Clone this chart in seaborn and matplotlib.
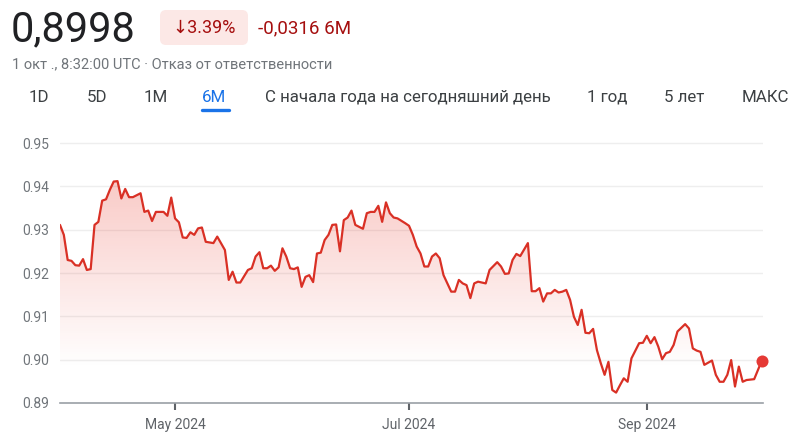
import matplotlib
matplotlib.use('Agg')
import matplotlib.pyplot as plt
import matplotlib.dates as mdates
import numpy as np
import pandas as pd
import seaborn as sns
from matplotlib.patches import Polygon, FancyBboxPatch
from matplotlib.lines import Line2D

# days after 2024-04-01 and the rate
days = [0, 1, 2, 3, 4, 5, 6, 7, 8, 9, 10, 11, 12, 13, 14, 15, 16, 17, 18, 19,
        21, 22, 23, 24, 25, 27, 28, 29, 30, 31, 32, 33, 34, 35, 36, 37, 38, 40, 41, 43,
        44, 45, 46, 47, 49, 50, 51, 52, 53, 54, 55, 56, 57, 58, 59, 60, 61, 62, 63, 64,
        65, 66, 67, 68, 69, 70, 71, 72, 73, 74, 75, 76, 77, 79, 80, 81, 82, 83, 84, 85,
        86, 87, 88, 90, 91, 92, 93, 94, 95, 96, 97, 98, 99, 100, 102, 103, 104, 105, 106, 107,
        108, 109, 111, 112, 114, 115, 116, 117, 118, 119, 120, 122, 123, 124, 125, 126, 127, 128, 129, 130,
        131, 132, 133, 134, 135, 136, 137, 138, 139, 140, 141, 142, 143, 144, 145, 146, 147, 148, 149, 151,
        152, 153, 154, 155, 156, 157, 158, 159, 160, 161, 163, 164, 165, 166, 167, 168, 170, 171, 172, 173,
        174, 175, 176, 177, 178, 179, 181, 183]
rate = [0.9311, 0.9288, 0.9230, 0.9228, 0.9218, 0.9217, 0.9232, 0.9207, 0.9209, 0.9311,
        0.9318, 0.9367, 0.9370, 0.9392, 0.9411, 0.9412, 0.9372, 0.9394, 0.9375, 0.9375,
        0.9384, 0.9341, 0.9344, 0.9320, 0.9341, 0.9341, 0.9332, 0.9374, 0.9326, 0.9317,
        0.9282, 0.9281, 0.9294, 0.9288, 0.9303, 0.9305, 0.9272, 0.9269, 0.9284, 0.9253,
        0.9184, 0.9203, 0.9178, 0.9178, 0.9207, 0.9211, 0.9238, 0.9248, 0.9211, 0.9211,
        0.9217, 0.9205, 0.9213, 0.9257, 0.9238, 0.9211, 0.9209, 0.9213, 0.9168, 0.9191,
        0.9195, 0.9179, 0.9245, 0.9247, 0.9276, 0.9288, 0.9311, 0.9312, 0.9250, 0.9322,
        0.9328, 0.9344, 0.9311, 0.9302, 0.9338, 0.9341, 0.9341, 0.9355, 0.9318, 0.9363,
        0.9338, 0.9328, 0.9326, 0.9315, 0.9309, 0.9288, 0.9261, 0.9245, 0.9215, 0.9215,
        0.9238, 0.9245, 0.9234, 0.9195, 0.9157, 0.9157, 0.9184, 0.9176, 0.9172, 0.9142,
        0.9176, 0.9180, 0.9176, 0.9207, 0.9225, 0.9215, 0.9198, 0.9199, 0.9230, 0.9244,
        0.9239, 0.9269, 0.9158, 0.9158, 0.9165, 0.9134, 0.9153, 0.9153, 0.9161, 0.9155,
        0.9157, 0.9161, 0.9138, 0.9099, 0.9080, 0.9115, 0.9062, 0.9061, 0.9071, 0.9022,
        0.8992, 0.8965, 0.8995, 0.8930, 0.8924, 0.8941, 0.8957, 0.8949, 0.9003, 0.9038,
        0.9039, 0.9055, 0.9038, 0.9052, 0.9030, 0.9001, 0.9015, 0.9018, 0.9034, 0.9065,
        0.9082, 0.9072, 0.9026, 0.9021, 0.9018, 0.8988, 0.8998, 0.8965, 0.8949, 0.8949,
        0.8965, 0.8999, 0.8938, 0.8984, 0.8949, 0.8953, 0.8955, 0.8998]

y_ticks = [0.89, 0.90, 0.91, 0.92, 0.93, 0.94, 0.95]
tabs = ['1D', '5D', '1M', '6M', 'С начала года на сегодняшний день', '1 год', '5 лет', 'МАКС']
tab_x = [39, 97, 156, 214, 408, 607, 684, 765]

price_text = '0,8998'
change_pct = '↓3.39%'
change_abs = '-0,0316 6M'
subtitle = '1 окт ., 8:32:00 UTC · Отказ от ответственности'

df = pd.DataFrame({'date': pd.Timestamp('2024-04-01') + pd.to_timedelta(days, unit='D'),
                   'rate': rate})

sns.set_theme(style='white')
plt.rcParams['font.family'] = ['Roboto', 'DejaVu Sans']

W, H = 800, 440
fig = plt.figure(figsize=(8, 4.4), dpi=100)
ymin, ymax = 0.89, 0.951
top_px = 143 - (ymax - 0.95) * 4333
ax = fig.add_axes([60 / W, 1 - 403 / H, (763 - 60) / W, (403 - top_px) / H])

red = '#d93025'
sns.lineplot(data=df, x='date', y='rate', ax=ax, color=red, linewidth=1.6, zorder=3)
for ln in ax.lines:
    ln.set_solid_joinstyle('round')
last = df.iloc[-1]
ax.scatter([last['date']], [last['rate']], s=75, color='#e53935', zorder=4, linewidths=0,
           clip_on=False)

# gradient fill under the line
xs = mdates.date2num(df['date'])
x0, x1 = xs[0], xs[-1]
poly = np.vstack([[x0, ymin], np.column_stack([xs, df['rate']]), [x1, ymin]])
patch = Polygon(poly, closed=True, facecolor='none', edgecolor='none')
ax.add_patch(patch)
grad = np.zeros((256, 1, 4))
grad[..., 0], grad[..., 1], grad[..., 2] = 0.92, 0.26, 0.21
grad[:, 0, 3] = np.linspace(0, 0.28, 256)
im = ax.imshow(grad, extent=[x0, x1, 0.898, 0.9415], aspect='auto', origin='lower',
               zorder=1, interpolation='bilinear')
im.set_clip_path(patch)

ax.set_xlim(x0, x1 + 0.3)
ax.set_ylim(ymin, ymax)
ax.set_yticks(y_ticks)
ax.set_yticklabels([f'{v:.2f}' for v in y_ticks])
ax.yaxis.grid(True, color='#eeeeee', linewidth=1)
ax.xaxis.grid(False)
ax.xaxis.set_major_locator(mdates.MonthLocator(bymonth=[5, 7, 9]))
ax.xaxis.set_major_formatter(mdates.DateFormatter('%b %Y'))
ax.set_xlabel('')
ax.set_ylabel('')
for s in ['top', 'right', 'left']:
    ax.spines[s].set_visible(False)
ax.spines['bottom'].set_color('#9aa0a6')
ax.spines['bottom'].set_linewidth(1.2)
ax.tick_params(axis='x', length=5, width=1.5, color='#5f6368', labelsize=10,
               labelcolor='#5f6368', pad=6, bottom=True)
ax.tick_params(axis='y', length=0, labelsize=10, labelcolor='#70757a', pad=8)

# header
def fx(px):
    return px / W

def fy(py):
    return 1 - py / H

fig.text(fx(11), fy(30), price_text, fontsize=30, color='#202124', va='center', ha='left')
badge = FancyBboxPatch((fx(160), fy(45)), fx(88), 35 / H,
                       boxstyle='round,pad=0,rounding_size=0.0075', mutation_aspect=W / H,
                       transform=fig.transFigure, facecolor='#fce8e6', edgecolor='none')
fig.add_artist(badge)
fig.text(fx(204), fy(28), change_pct, fontsize=13, color='#a50e0e', va='center', ha='center')
fig.text(fx(258), fy(28), change_abs, fontsize=13.5, color='#a50e0e', va='center', ha='left')
fig.text(fx(12), fy(64), subtitle, fontsize=10.5, color='#70757a', va='center', ha='left')

for label, x in zip(tabs, tab_x):
    col = '#1a73e8' if label == '6M' else '#3c4043'
    fig.text(fx(x), fy(97), label, fontsize=12.2, color=col, va='center', ha='center')
fig.add_artist(Line2D([fx(202), fx(229)], [fy(110), fy(110)], color='#1a73e8',
                      linewidth=2.4, solid_capstyle='round', transform=fig.transFigure))

fig.savefig('out.png', dpi=100)
